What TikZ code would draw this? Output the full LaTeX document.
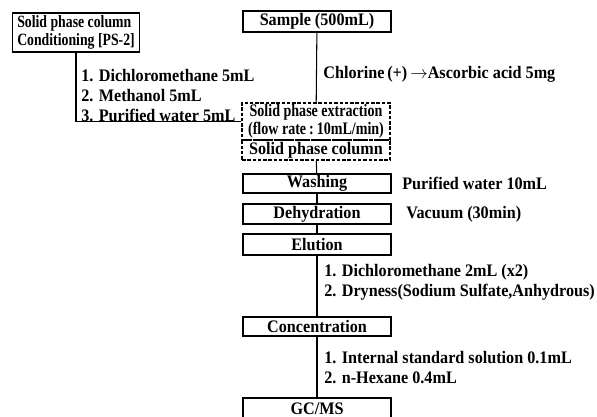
\documentclass[tikz,border=0pt]{standalone}
\usepackage{fontspec}
\setmainfont[FakeStretch=0.92]{Liberation Serif}
\newfontfamily\narrowfont[FakeStretch=0.8]{Liberation Serif}
\usepackage{tikz}

\begin{document}
\begin{tikzpicture}[x=0.02cm,y=-0.02cm,font=\bfseries\fontsize{10pt}{11.4pt}\selectfont]

	\tikzstyle{mybox}=[draw,line width=0.6pt,minimum width=2.96cm,minimum height=0.4cm,inner sep=0pt]
	\tikzstyle{mydash}=[mybox,dash pattern=on 2pt off 1pt]
	\tikzstyle{myline}=[line width=0.6pt]
	\tikzstyle{mynote}=[anchor=west,align=left,inner sep=0pt]

	\useasboundingbox (0,0) rectangle (597,416);

	\node[mybox,minimum width=2.54cm,minimum height=0.78cm,align=left,font=\narrowfont\bfseries\fontsize{9.8pt}{10.5pt}\selectfont] (cond) at (76,32.5) {Solid phase column\\Conditioning [PS-2]};
	\node[mybox,minimum height=0.42cm] (sample) at (317,21.5) {Sample (500mL)};
	\node[mydash,minimum height=0.74cm,align=center,font=\narrowfont\bfseries\fontsize{10pt}{10.5pt}\selectfont] (spe) at (316,121.5) {Solid phase extraction\\(flow rate\,:\,10mL/min)};
	\node[mydash] (col) at (316,150) {Solid phase column};
	\node[mybox,minimum height=0.38cm] (wash) at (317,183.5) {Washing};
	\node[mybox] (dehy) at (317,214) {Dehydration};
	\node[mybox,minimum height=0.42cm] (elu) at (317,244.5) {Elution};
	\node[mybox,minimum height=0.38cm] (conc) at (317,326.5) {Concentration};
	\node[mybox,minimum height=0.44cm] (gcms) at (317,409) {GC/MS};
%
	\draw[myline] (sample) -- (spe);
	\draw[myline] (cond.south) |- (spe.west);
	\draw[myline] (col) -- (wash);
	\draw[myline] (wash) -- (dehy);
	\draw[myline] (dehy) -- (elu);
	\draw[myline] (elu) -- (conc);
	\draw[myline] (conc) -- (gcms);
%
	\node[mynote] (condnote) at (81,95.5) {1. Dichloromethane 5mL\\2. Methanol 5mL\\3. Purified water 5mL};
	\node[mynote] (clnote) at (323,74) {Chlorine\,(+)\,$\rightarrow$Ascorbic acid 5mg};
	\node[mynote] (washnote) at (402,183) {Purified water 10mL};
	\node[mynote] (dehynote) at (406,214) {Vacuum (30min)};
	\node[mynote] (elunote) at (324,282.5) {1. Dichloromethane 2mL (x2)\\2. Dryness(Sodium Sulfate,Anhydrous)};
	\node[mynote] (concnote) at (324,367.5) {1. Internal standard solution 0.1mL\\2. n-Hexane 0.4mL};
\end{tikzpicture}
\end{document}
